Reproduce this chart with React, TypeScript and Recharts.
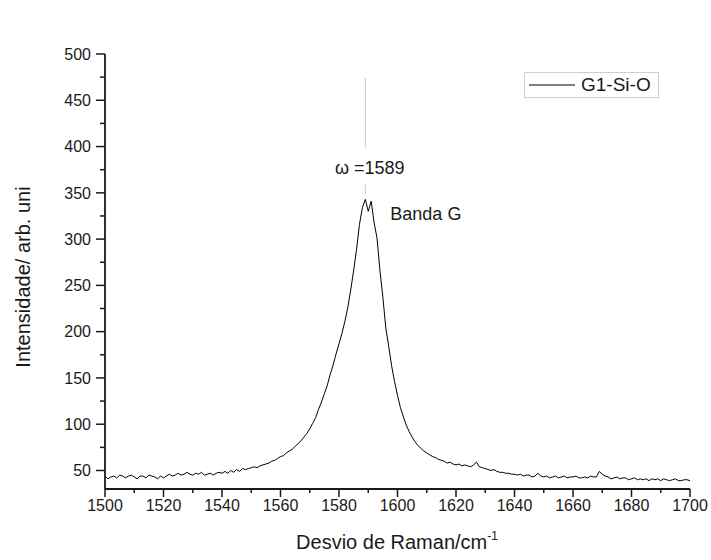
import { Label, Line, LineChart, ReferenceDot, ReferenceLine, XAxis, YAxis } from "recharts";

// Raman spectrum, one point per cm-1 starting at 1500
const WAVENUMBER_START = 1500;
const INTENSITY = [
  44, 41, 43, 44, 42, 45, 44, 42, 44, 45,
  43, 41, 44, 44, 42, 45, 44, 43, 41, 44,
  42, 44, 46, 44, 45, 47, 45, 46, 48, 46,
  45, 47, 46, 48, 45, 46, 47, 45, 47, 48,
  47, 49, 47, 50, 48, 51, 49, 52, 51, 52,
  53, 54, 53, 55, 56, 57, 58, 60, 61, 63,
  65, 66, 69, 71, 73, 76, 79, 82, 86, 90,
  95, 101, 107, 116, 124, 133, 142, 154, 164, 176,
  187, 198, 211, 226, 245, 266, 289, 316, 334, 343,
  330, 341, 318, 301, 266, 237, 204, 184, 163, 146,
  131, 118, 108, 99, 92, 86, 81, 77, 74, 71,
  69, 67, 65, 64, 62, 61, 60, 58, 59, 57,
  56, 57, 55, 56, 55, 54, 56, 59, 54, 53,
  52, 51, 50, 51, 49, 48, 48, 47, 47, 46,
  46, 45, 46, 44, 45, 45, 43, 44, 47, 44,
  43, 44, 42, 43, 44, 42, 43, 44, 42, 43,
  43, 44, 42, 42, 43, 42, 44, 43, 43, 49,
  46, 44, 43, 41, 42, 43, 41, 42, 42, 40,
  41, 42, 40, 41, 40, 41, 39, 41, 40, 41,
  39, 41, 40, 39, 40, 41, 39, 39, 40, 40,
  39,
];

const X_TICKS = [
  1500, 1510, 1520, 1530, 1540, 1550, 1560, 1570, 1580, 1590, 1600,
  1610, 1620, 1630, 1640, 1650, 1660, 1670, 1680, 1690, 1700,
];
const Y_TICKS = [
  50, 75, 100, 125, 150, 175, 200, 225, 250, 275, 300, 325, 350, 375, 400,
  425, 450, 475, 500,
];
const PEAK_POS = 1589;
const PEAK_LABEL = "ω =1589";
const BAND_LABEL = "Banda G";
const SERIES_NAME = "G1-Si-O";

const data = INTENSITY.map((v, i) => ({ x: WAVENUMBER_START + i, y: v }));

const FONT = "'Liberation Sans', Arial, sans-serif";
const INK = "#1a1a1a";

function BottomTick({ x, y, payload }: any) {
  const major = payload.value % 20 === 0;
  return (
    <g>
      <line x1={x} y1={y} x2={x} y2={y + (major ? 8 : 4)} stroke={INK} strokeWidth={1.5} />
      {major && (
        <text x={x} y={y + 22} textAnchor="middle" fontSize={16} fontFamily={FONT} fill={INK}>
          {payload.value}
        </text>
      )}
    </g>
  );
}

function TopTick({ x, y, payload }: any) {
  const major = payload.value % 20 === 0;
  return <line x1={x} y1={y} x2={x} y2={y + (major ? 8 : 4)} stroke={INK} strokeWidth={1.5} />;
}

function LeftTick({ x, y, payload }: any) {
  const major = payload.value % 50 === 0;
  return (
    <g>
      <line x1={x - (major ? 9 : 5)} y1={y} x2={x} y2={y} stroke={INK} strokeWidth={1.5} />
      {major && (
        <text x={x - 14} y={y} dy="0.36em" textAnchor="end" fontSize={16} fontFamily={FONT} fill={INK}>
          {payload.value}
        </text>
      )}
    </g>
  );
}

function RightTick({ x, y, payload }: any) {
  const major = payload.value % 50 === 0;
  return <line x1={x - (major ? 9 : 5)} y1={y} x2={x} y2={y} stroke={INK} strokeWidth={1.5} />;
}

function LegendBox() {
  return (
    <div
      style={{
        position: "absolute",
        left: 524,
        top: 72,
        width: 133,
        height: 24,
        border: "1px solid #cfcfcf",
        display: "flex",
        alignItems: "center",
        fontFamily: FONT,
        fontSize: 19,
        color: INK,
        background: "#fff",
      }}
    >
      <svg width={52} height={10} style={{ marginLeft: 4 }}>
        <line x1={0} y1={5} x2={46} y2={5} stroke="#000" strokeWidth={1.2} />
      </svg>
      <span>{SERIES_NAME}</span>
    </div>
  );
}

export default function App() {
  return (
    <div style={{ position: "absolute", left: 0, top: 0, width: 711, height: 560, background: "#fff" }}>
      <LineChart
        width={711}
        height={560}
        data={data}
        margin={{ top: 54, right: 21, bottom: 0, left: 0 }}
      >
        <XAxis
          dataKey="x"
          type="number"
          domain={[1500, 1700]}
          ticks={X_TICKS}
          interval={0}
          height={71}
          tickSize={0}
          tickMargin={0}
          tickLine={false}
          tick={<BottomTick />}
          axisLine={{ stroke: INK, strokeWidth: 1.8 }}
        >
          <Label
            content={() => (
              <text x={397} y={549} textAnchor="middle" fontSize={20} fontFamily={FONT} fill={INK}>
                Desvio de Raman/cm
                <tspan fontSize={12} dy={-9}>-1</tspan>
              </text>
            )}
          />
        </XAxis>
        <XAxis
          xAxisId="top"
          dataKey="x"
          type="number"
          orientation="top"
          domain={[1500, 1700]}
          ticks={X_TICKS}
          interval={0}
          height={0}
          tickSize={0}
          tickMargin={0}
          tickLine={false}
          tick={<TopTick />}
          axisLine={{ stroke: INK, strokeWidth: 1.8 }}
        >
          <Label
            content={() => (
              <text x={369} y={22} textAnchor="middle" fontSize={20} fontFamily={FONT} fill={INK}>
                A1-Si-Grafeno @532 nm
              </text>
            )}
          />
        </XAxis>
        <YAxis
          type="number"
          domain={[30, 500]}
          ticks={Y_TICKS}
          interval={0}
          width={105}
          tickSize={0}
          tickMargin={0}
          tickLine={false}
          tick={<LeftTick />}
          axisLine={{ stroke: INK, strokeWidth: 1.8 }}
        >
          <Label
            content={() => (
              <text
                x={30}
                y={277}
                transform="rotate(-90 30 277)"
                textAnchor="middle"
                fontSize={20}
                fontFamily={FONT}
                fill={INK}
              >
                Intensidade/ arb. uni
              </text>
            )}
          />
        </YAxis>
        <YAxis
          yAxisId="right"
          orientation="right"
          type="number"
          domain={[30, 500]}
          ticks={Y_TICKS}
          interval={0}
          width={0}
          tickSize={0}
          tickMargin={0}
          tickLine={false}
          tick={<RightTick />}
          axisLine={{ stroke: INK, strokeWidth: 1.8 }}
        />
        <ReferenceLine
          segment={[
            { x: PEAK_POS, y: 474 },
            { x: PEAK_POS, y: 399 },
          ]}
          stroke="#c8c8c8"
          strokeWidth={1}
        />
        <ReferenceLine
          segment={[
            { x: PEAK_POS, y: 359 },
            { x: PEAK_POS, y: 348 },
          ]}
          stroke="#c8c8c8"
          strokeWidth={1}
        />
        <ReferenceDot
          x={PEAK_POS + 1.5}
          y={377}
          r={0}
          stroke="none"
          fill="none"
          label={{ value: PEAK_LABEL, position: "center", fontSize: 18, fontFamily: FONT, fill: INK }}
        />
        <ReferenceDot
          x={1609.7}
          y={328}
          r={0}
          stroke="none"
          fill="none"
          label={{ value: BAND_LABEL, position: "center", fontSize: 18, fontFamily: FONT, fill: INK }}
        />
        <Line
          dataKey="y"
          name={SERIES_NAME}
          type="linear"
          stroke="#000"
          strokeWidth={1}
          dot={false}
          isAnimationActive={false}
        />
      </LineChart>
      <LegendBox />
    </div>
  );
}
